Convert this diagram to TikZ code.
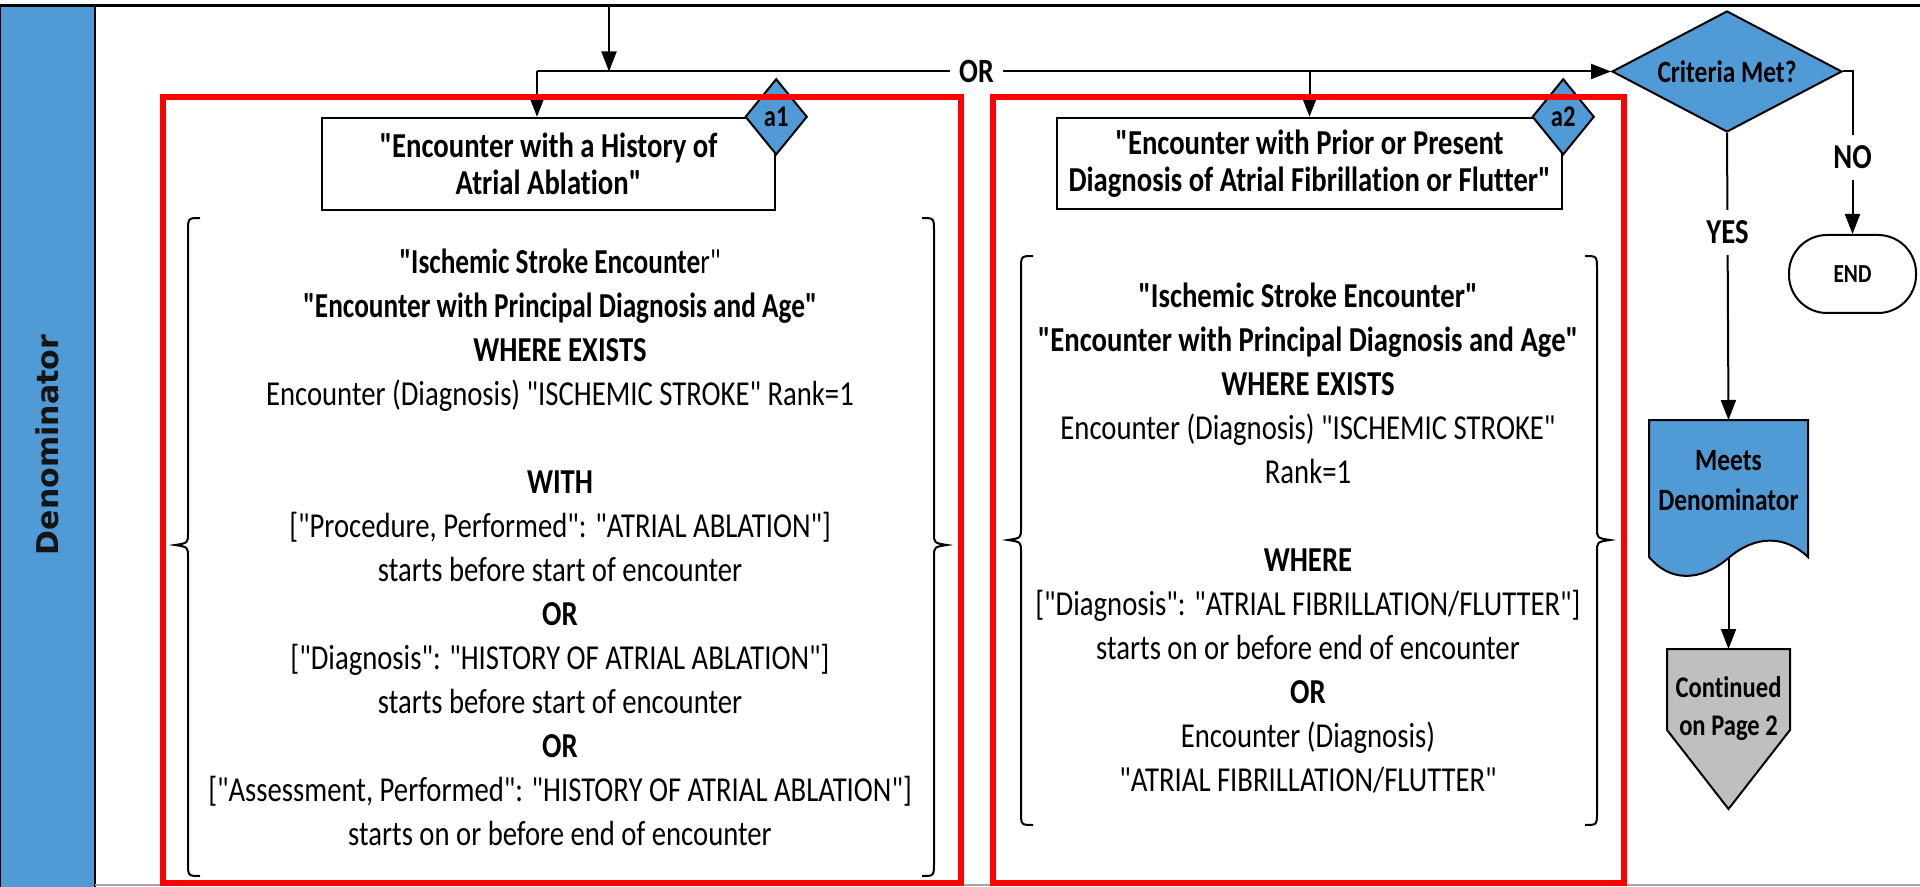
\documentclass[tikz,border=0pt]{standalone}
\usepackage{fontspec}
\newfontfamily\calib{Carlito}[FakeStretch=0.82,Ligatures=NoCommon]
\newfontfamily\calibN{Carlito}[FakeStretch=0.78,Ligatures=NoCommon]
\newfontfamily\bandfont{DejaVu Sans}
\usetikzlibrary{arrows.meta,shapes.geometric,calc}
\definecolor{mblue}{RGB}{80,155,213}
\definecolor{mgray}{RGB}{191,191,191}
\definecolor{mred}{RGB}{255,0,0}
\newcommand{\curlyb}[5]{%
  \draw[bracepath] ({#1+#5*12},#2) .. controls (#1,#2) .. (#1,{#2+14}) -- (#1,{#4-12})
    .. controls (#1,{#4-2}) .. ({#1-#5*13},#4) .. controls (#1,{#4+2}) .. (#1,{#4+12})
    -- (#1,{#3-14}) .. controls (#1,#3) .. ({#1+#5*12},#3);}
\newcommand{\nb}[1]{{\calibN\bfseries #1}}
\begin{document}
\begin{tikzpicture}[x=0.5pt,y=-0.5pt,
  conn/.style={draw=black,line width=1pt,-{Triangle[length=10pt,width=7.5pt]}},
  plain/.style={draw=black,line width=1pt},
  redframe/.style={draw=mred,line width=2.6pt},
  titlebox/.style={draw=black,line width=1.2pt,fill=white,align=center,inner sep=0pt,
    font=\calib\fontsize{17.5}{18.5}\selectfont\bfseries},
  bodytext/.style={align=center,inner sep=0pt,font=\calib\fontsize{17.5}{22}\selectfont},
  smalldia/.style={diamond,draw=black,line width=1pt,fill=mblue,inner sep=0pt,
    minimum width=31pt,minimum height=38pt,font=\calib\fontsize{15}{15}\selectfont\bfseries},
  smallbold/.style={align=center,inner sep=0pt,font=\calib\fontsize{15.5}{20}\selectfont\bfseries},
  bracepath/.style={draw=black,line width=1pt},
  lbl/.style={fill=white,inner xsep=1pt,inner ysep=5.5pt,font=\calib\fontsize{17.5}{17.5}\selectfont\bfseries},
  shapefill/.style={draw=black,line width=1pt}
]
\useasboundingbox (0,0) rectangle (1920,887);
\fill[white] (0,0) rectangle (1920,887);

% swim lane band
\fill[mblue] (0,6) rectangle (95,887);
\draw[line width=1pt] (95,6) -- (95,887);
\draw[line width=0.5pt] (0.5,6) -- (0.5,887);
\node[rotate=90,inner sep=0pt,text=black!92,font=\bandfont\bfseries\fontsize{15}{15}\selectfont] (band) at (47,445) {Denominator};
\draw[line width=1.5pt] (0,6) -- (1920,6);
\draw[draw=black!35,line width=1pt] (95,884.5) -- (1920,884.5);

% title boxes
\node[titlebox,minimum width=226.5pt,minimum height=46pt] (t1) at (548.5,164)
  {"Encounter with a History of\\Atrial Ablation"};
\node[titlebox,minimum width=252.5pt,minimum height=45.5pt] (t2) at (1309.5,163.5)
  {"Encounter with Prior or Present\\Diagnosis of Atrial Fibrillation or Flutter"};
\node[smalldia] (a1) at (t1.north east) {a1};
\node[smalldia] (a2) at (t2.north east) {a2};

% decision
\node[diamond,aspect=2,draw=black,line width=1pt,fill=mblue,inner sep=0pt,
  minimum width=115pt,minimum height=60.5pt,font=\calib\fontsize{15.5}{15.5}\selectfont\bfseries]
  (crit) at (1727,71.5) {Criteria Met?};
\node[draw=black,line width=1pt,rounded corners=19pt,minimum width=63.5pt,minimum height=39pt,
  inner sep=0pt,font=\calib\fontsize{13}{13}\selectfont\bfseries] (endn) at (1852.5,274) {END};

% connectors at top
\coordinate (topin) at (609,6);
\coordinate (jL) at (537,71.5);
\draw[conn] (topin) -- (topin |- crit.west);
\draw[conn] (jL) -- (crit.west);
\draw[conn] (jL) -- (jL |- t1.north);
\draw[conn] (t2.north |- jL) -- (t2.north);
\node[fill=white,inner xsep=4.5pt,inner ysep=2pt,font=\calib\fontsize{17}{17}\selectfont\bfseries] (orl) at (976.5,71.5) {OR};

% NO branch
\draw[conn] (crit.east) -| node[lbl,pos=0.764] (nol) {NO} (endn.north);

% Meets denominator document
\coordinate (docTop) at (1728.5,420);
\coordinate (docBot) at (1728.5,558);
\path[shapefill,fill=mblue] (1649,420) -- (1808,420) -- (1808,557)
  .. controls (1785,535) and (1755,535) .. (docBot)
  .. controls (1700,582) and (1670,582) .. (1649,557) -- cycle;
\node[smallbold] (meets) at (1728.5,481) {Meets\\Denominator};
\draw[conn] (crit.south) -- node[lbl,pos=0.347] (yesl) {YES} (docTop);

% off-page connector
\coordinate (contTop) at (1728.5,649);
\path[shapefill,fill=mgray] (1667,649) -- (1790,649) -- (1790,730) -- (1728.5,809) -- (1667,730) -- cycle;
\node[smallbold,font=\calib\fontsize{15}{19}\selectfont\bfseries] (cont) at (1728.5,709) {Continued\\on Page 2};
\draw[conn] (docBot) -- (contTop);

% braces
\curlyb{188}{218}{876}{545}{1}
\curlyb{934}{218}{876}{545}{-1}
\curlyb{1021}{256}{825}{540}{1}
\curlyb{1597}{256}{825}{540}{-1}

% body texts
\node[bodytext] (body1) at (560,547) {%
\nb{"Ischemic Stroke Encounte}{\calibN r"}\\
\nb{"Encounter with Principal Diagnosis and Age"}\\
\textbf{WHERE EXISTS}\\
Encounter (Diagnosis) "ISCHEMIC STROKE" Rank=1\\[22pt]
\textbf{WITH}\\
{[}"Procedure, Performed": "ATRIAL ABLATION"]\\
starts before start of encounter\\
\textbf{OR}\\
{[}"Diagnosis": "HISTORY OF ATRIAL ABLATION"]\\
starts before start of encounter\\
\textbf{OR}\\
{[}"Assessment, Performed": "HISTORY OF ATRIAL ABLATION"]\\
starts on or before end of encounter};

\node[bodytext] (body2) at (1308,537.5) {%
\textbf{"Ischemic Stroke Encounter"}\\
\textbf{"Encounter with Principal Diagnosis and Age"}\\
\textbf{WHERE EXISTS}\\
Encounter (Diagnosis) "ISCHEMIC STROKE"\\
Rank=1\\[22pt]
\textbf{WHERE}\\
{[}"Diagnosis": "ATRIAL FIBRILLATION/FLUTTER"]\\
starts on or before end of encounter\\
\textbf{OR}\\
Encounter (Diagnosis)\\
"ATRIAL FIBRILLATION/FLUTTER"};

% red highlight frames
\draw[redframe] (163,97) rectangle (961,883);
\draw[redframe] (993,97) rectangle (1624,883);
\end{tikzpicture}
\end{document}
